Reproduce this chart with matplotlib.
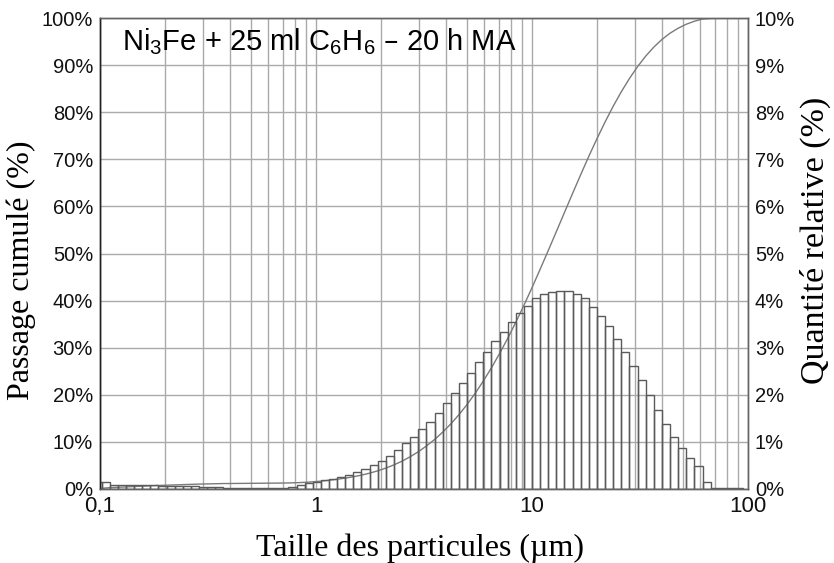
import matplotlib
matplotlib.use("Agg")
import matplotlib.pyplot as plt
import numpy as np
from matplotlib.ticker import FixedLocator, FuncFormatter, NullFormatter, LogLocator

"""# Données lues sur le graphe"""
# classes granulométriques : ~26,6 classes par décade, une limite à 10 µm
classes_par_decade = 26.6
indices_classes = np.arange(-54, 27)
limites_um = 10 * 10 ** (indices_classes / classes_par_decade)

# quantité relative par classe (%)
quantite_rel = [
    0.15, 0.15, 0.08, 0.08, 0.08, 0.08, 0.08, 0.08, 0.06, 0.06,
    0.06, 0.06, 0.06, 0.04, 0.04, 0.04, 0.015, 0.015, 0.015, 0.015,
    0.015, 0.015, 0.015, 0.03, 0.05, 0.08, 0.12, 0.15, 0.19, 0.22,
    0.25, 0.30, 0.36, 0.43, 0.52, 0.60, 0.71, 0.82, 0.97, 1.10,
    1.27, 1.42, 1.62, 1.82, 2.03, 2.24, 2.47, 2.69, 2.91, 3.14,
    3.34, 3.55, 3.74, 3.89, 4.05, 4.13, 4.19, 4.21, 4.20, 4.13,
    4.05, 3.87, 3.68, 3.47, 3.19, 2.91, 2.62, 2.31, 1.99, 1.68,
    1.38, 1.10, 0.88, 0.66, 0.49, 0.14, 0.02, 0.02, 0.02, 0.02,
]

ticks_x = [0.1, 1, 10, 100]
labels_x = ['0,1', '1', '10', '100']
ticks_gauche = list(range(0, 101, 10))
ticks_droite = list(range(0, 11))

titre = 'Ni$_3$Fe + 25 ml C$_6$H$_6$ – 20 h MA'

"""# Passage cumulé calculé à partir des classes"""
quantite_rel = np.array(quantite_rel)
cumul = np.concatenate([[0], np.cumsum(quantite_rel)])
cumul = cumul / cumul[-1] * 100

plt.rcParams['mathtext.default'] = 'regular'
plt.rcParams['font.family'] = ['Liberation Sans', 'DejaVu Sans']

fig = plt.figure(figsize=(8.34, 5.63), dpi=100)
ax = fig.add_axes([100 / 834, 1 - 489 / 563, 648 / 834, 471 / 563])
ax2 = ax.twinx()

"""# Grille"""
ax.set_xscale('log')
ax.set_xlim(0.1, 100)
ax.set_ylim(0, 100)
ax2.set_ylim(0, 10)
ax.xaxis.set_major_locator(FixedLocator(ticks_x))
ax.xaxis.set_major_formatter(FuncFormatter(lambda v, p: labels_x[ticks_x.index(v)] if v in ticks_x else ''))
ax.xaxis.set_minor_locator(LogLocator(base=10, subs=np.arange(2, 10)))
ax.xaxis.set_minor_formatter(NullFormatter())
ax.set_yticks(ticks_gauche)
ax.set_yticklabels([f'{v}%' for v in ticks_gauche])
ax2.set_yticks(ticks_droite)
ax2.set_yticklabels([f'{v}%' for v in ticks_droite])

ax.grid(True, which='both', axis='x', color='#aaaaaa', lw=1)
ax.grid(True, which='major', axis='y', color='#aaaaaa', lw=1)
ax.set_axisbelow(True)

ax.tick_params(axis='y', length=0, labelsize=14.5, pad=5, colors='#111111')
ax.tick_params(axis='x', which='both', length=0, labelsize=16, pad=5, colors='#111111')
ax2.tick_params(which='both', length=0, labelsize=14.5, pad=5, colors='#111111')

for a in (ax, ax2):
    for cote in a.spines.values():
        cote.set_color('#666666')
        cote.set_linewidth(1)
ax.spines['left'].set_color('#222222')
ax2.spines['left'].set_color('#222222')

"""# Histogramme et courbe cumulée"""
ax2.bar(limites_um[:-1], quantite_rel, width=np.diff(limites_um), align='edge',
        facecolor='none', edgecolor='#5a5a5a', lw=1)
ax.plot(limites_um, cumul, color='#7a7a7a', lw=1)

"""# Textes"""
ax.text(0.034, 0.95, titre, transform=ax.transAxes, fontsize=21, va='center', ha='left')
ax.set_xlabel('Taille des particules (µm)', family='Liberation Serif', fontsize=23)
ax.xaxis.set_label_coords(0.494, -0.094)
ax.set_ylabel('Passage cumulé (%)', family='Liberation Serif', fontsize=23)
ax.yaxis.set_label_coords(-0.099, 0.465)
ax2.set_ylabel('Quantité relative (%)', family='Liberation Serif', fontsize=24.5)
ax2.yaxis.set_label_coords(1.080, 0.527)

fig.savefig('out.png', dpi=100)
